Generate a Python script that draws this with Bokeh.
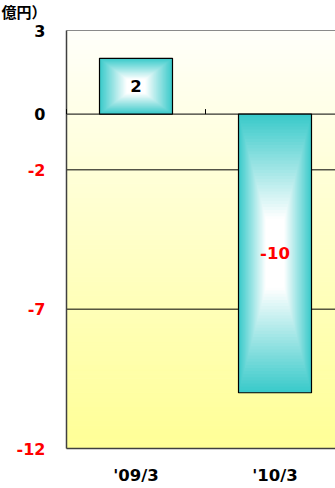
import numpy as np
from bokeh.plotting import figure
from bokeh.models import Range1d
from bokeh.core.properties import value
from bokeh.embed import file_html
from bokeh.resources import INLINE

# ---- data ----
categories = ["'09/3", "'10/3"]
values = [2, -10]
y_ticks = [3, 0, -2, -7, -12]
y_tick_labels = ["3", "0", "-2", "-7", "-12"]
grid_values = [0, -2, -7]
unit_label = "億円）"

# ---- layout / styling ----
W, H = 335, 488
LEFT, TOP, BOTTOM = 66.0, 30.0, 40.0       # plot-area margins in px
Y_MIN, Y_MAX = -12, 3
CAT_W = 139.0                               # px per category
PPU = (H - TOP - BOTTOM) / (Y_MAX - Y_MIN)  # px per y unit
X_END = (W - LEFT) / CAT_W
BAR_W = 73.0 / CAT_W
TEAL = np.array([58, 202, 202], dtype=float)
WHITE = np.array([255, 255, 255], dtype=float)
BG_TOP = np.array([255, 255, 250], dtype=float)
BG_BOT = np.array([255, 255, 150], dtype=float)
FONT = "DejaVu Sans"


def hexc(rgb):
    r, g, b = [int(round(c)) for c in rgb]
    return "#%02x%02x%02x" % (r, g, b)


p = figure(width=W, height=H, output_backend="svg", toolbar_location=None,
           x_range=Range1d(-LEFT / CAT_W, X_END),
           y_range=Range1d(Y_MIN - BOTTOM / PPU, Y_MAX + TOP / PPU),
           min_border=0)
p.axis.visible = False
p.grid.visible = False
p.outline_line_color = None
p.background_fill_color = "white"
p.border_fill_color = "white"

# plot-area background gradient
n_bands = 90
edges = np.linspace(Y_MIN, Y_MAX, n_bands + 1)
band_cols = []
for i in range(n_bands):
    t = (edges[i] + edges[i + 1]) / 2
    f = (Y_MAX - t) / (Y_MAX - Y_MIN)
    band_cols.append(hexc(BG_TOP + (BG_BOT - BG_TOP) * f))
p.quad(left=0, right=X_END, bottom=edges[:-1], top=edges[1:],
       fill_color=band_cols, line_color=band_cols, line_width=1)

# gridlines
p.segment(x0=[0] * len(grid_values), x1=[X_END] * len(grid_values),
          y0=grid_values, y1=grid_values, line_color="black", line_width=1)
# top border
p.segment(x0=[0], x1=[X_END], y0=[Y_MAX], y1=[Y_MAX], line_color="#8a8a8a", line_width=1)

# bars with rectangular (center) gradient
N = 45
bx, by, bw, bh, bc = [], [], [], [], []
for i, v in enumerate(values):
    cx = i + 0.5
    cy = v / 2.0
    for k in range(N):
        s = 1 - k / N
        t = min(1.0, (k / N) * 1.35)
        bx.append(cx)
        by.append(cy)
        bw.append(BAR_W * s)
        bh.append(abs(v) * s)
        bc.append(hexc(TEAL + (WHITE - TEAL) * t))
p.rect(x=bx, y=by, width=bw, height=bh, fill_color=bc, line_color=None)
p.rect(x=[i + 0.5 for i in range(len(values))], y=[v / 2.0 for v in values],
       width=BAR_W, height=[abs(v) for v in values],
       fill_color=None, line_color="black", line_width=1.2)

# axis lines (left and bottom)
p.segment(x0=[0, 0], x1=[0, X_END], y0=[Y_MIN, Y_MIN], y1=[Y_MAX, Y_MIN],
          line_color="#404040", line_width=1.5)

# small category tick marks on the zero line
bounds = list(range(len(categories) + 1))
p.segment(x0=bounds, y0=[0] * len(bounds), x1=bounds,
          y1=[5 / PPU] * len(bounds), line_color="black", line_width=1)

# value labels
p.text(x=[i + 0.5 for i in range(len(values))], y=[v / 2.0 for v in values],
       text=[str(v) for v in values],
       text_color=["black" if v >= 0 else "red" for v in values],
       text_align="center", text_baseline="middle",
       text_font=value(FONT), text_font_style="bold", text_font_size="16.5px")

# y tick labels
p.text(x=[0] * len(y_ticks), y=y_ticks, text=y_tick_labels, x_offset=-21,
       text_color=["black" if t >= 0 else "red" for t in y_ticks],
       text_align="right", text_baseline="middle",
       text_font=value(FONT), text_font_style="bold", text_font_size="16px")

# x category labels
p.text(x=[i + 0.5 for i in range(len(categories))], y=[Y_MIN] * len(categories),
       text=categories, y_offset=27, text_color="black",
       text_align="center", text_baseline="middle",
       text_font=value(FONT), text_font_style="bold", text_font_size="16.5px")

# unit label
p.text(x=[0], y=[Y_MAX], text=[unit_label], x_offset=-65, y_offset=-19,
       text_align="left", text_baseline="middle", text_color="black",
       text_font=value("Noto Sans CJK JP"), text_font_style="bold",
       text_font_size="15px")

open("out.html", "w").write(file_html(p, INLINE))
